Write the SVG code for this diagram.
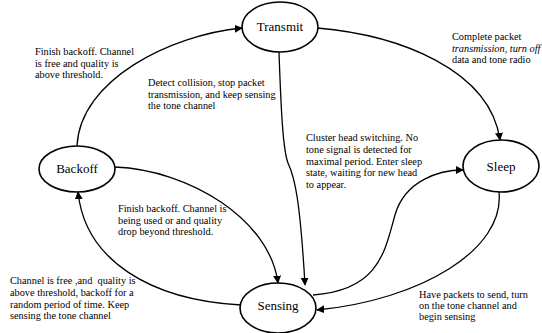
<svg xmlns="http://www.w3.org/2000/svg" width="542" height="333" viewBox="0 0 542 333">
<style>
.node ellipse{fill:#fff;stroke:#000;stroke-width:1.6}
.node text{font-family:"Liberation Serif","Times New Roman","DejaVu Serif",serif;font-size:13px;text-anchor:middle;fill:#000}
.edge{fill:none;stroke:#000;stroke-width:1.3;marker-end:url(#arr)}
.lbl{font-family:"Liberation Serif","Times New Roman","DejaVu Serif",serif;font-size:10.3px;fill:#000}
</style>
<defs>
<marker id="arr" viewBox="0 0 10 10" refX="9" refY="5" markerWidth="8" markerHeight="8" markerUnits="userSpaceOnUse" orient="auto">
<path d="M0,0 L10,5 L0,10 z" fill="#000"/>
</marker>
</defs>
<rect width="542" height="333" fill="#fff"/>
<g id="connectors">
<path class="edge" d="M77,146 C80,80 170,35 242,28"/>
<path class="edge" d="M279,52 C281,110 283,150 288,163 C295,178 300,200 305,285"/>
<path class="edge" d="M317,28 C400,35 490,70 500,140"/>
<path class="edge" d="M115,167 C190,170 270,220 278,283"/>
<path class="edge" d="M241,305 C150,300 85,260 78,192"/>
<path class="edge" d="M313,295 C380,290 385,250 395,215 C405,180 440,170 463,170"/>
<path class="edge" d="M499,192 C505,250 420,300 317,310"/>
</g>
<g id="transmit" class="node"><ellipse cx="280" cy="27" rx="38" ry="25"/><text x="280" y="31">Transmit</text></g>
<g id="backoff" class="node"><ellipse cx="77" cy="169" rx="38" ry="23"/><text x="77" y="173">Backoff</text></g>
<g id="sleep" class="node"><ellipse cx="501" cy="166" rx="38" ry="26"/><text x="501" y="171">Sleep</text></g>
<g id="sensing" class="node"><ellipse cx="278" cy="308" rx="38" ry="25"/><text x="278" y="310">Sensing</text></g>
<g id="labels">
<text class="lbl" x="35" y="55">Finish backoff. Channel<tspan x="35" dy="11.7">is free and quality is</tspan><tspan x="35" dy="11.7">above threshold.</tspan></text>
<text class="lbl" x="148" y="86">Detect collision, stop packet<tspan x="148" dy="11.7">transmission, and keep sensing</tspan><tspan x="148" dy="11.7">the tone channel</tspan></text>
<text class="lbl" x="452" y="40">Complete packet<tspan x="452" dy="11.7" font-style="italic">transmission, turn off</tspan><tspan x="452" dy="11.7">data and tone radio</tspan></text>
<text class="lbl" x="306" y="141">Cluster head switching. No<tspan x="306" dy="11.8">tone signal is detected for</tspan><tspan x="306" dy="11.8">maximal period. Enter sleep</tspan><tspan x="306" dy="11.8">state, waiting for new head</tspan><tspan x="306" dy="11.8">to appear.</tspan></text>
<text class="lbl" x="118" y="212">Finish backoff. Channel is<tspan x="118" dy="11.7">being used or and quality</tspan><tspan x="118" dy="11.7">drop beyond threshold.</tspan></text>
<text class="lbl" x="10" y="284" xml:space="preserve">Channel is free ,and  quality is<tspan x="10" dy="11.8">above threshold, backoff for a</tspan><tspan x="10" dy="11.8">random period of time. Keep</tspan><tspan x="10" dy="11.8">sensing the tone channel</tspan></text>
<text class="lbl" x="419" y="298">Have packets to send, turn<tspan x="419" dy="11.2">on the tone channel and</tspan><tspan x="419" dy="11.2">begin sensing</tspan></text>
</g>
</svg>
